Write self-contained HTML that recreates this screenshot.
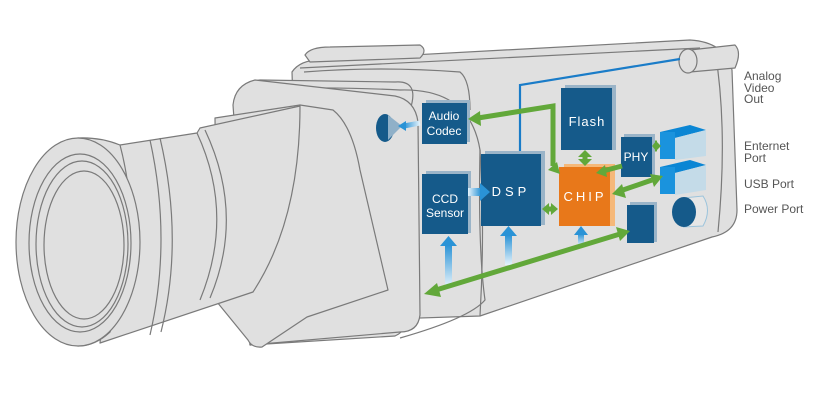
<!DOCTYPE html>
<html><head><meta charset="utf-8"><style>
html,body{margin:0;padding:0;background:#fff;}
svg{display:block}
text{font-family:"Liberation Sans",sans-serif;}
</style></head><body>
<svg width="836" height="400" viewBox="0 0 836 400" xmlns="http://www.w3.org/2000/svg">
<defs>
<linearGradient id="lb" x1="0" y1="1" x2="0" y2="0"><stop offset="0" stop-color="#e6f3fb"/><stop offset="1" stop-color="#2a93d6"/></linearGradient>
<linearGradient id="lbh" x1="0" y1="0" x2="1" y2="0"><stop offset="0" stop-color="#e6f3fb"/><stop offset="1" stop-color="#2a93d6"/></linearGradient>
<linearGradient id="lbl" x1="1" y1="0" x2="0" y2="0"><stop offset="0" stop-color="#e6f3fb"/><stop offset="1" stop-color="#2a93d6"/></linearGradient>
</defs>
<g fill="#e0e0e0" stroke="#7a7a7a" stroke-width="1.2" stroke-linejoin="round">
<!-- main body -->
<path d="M292,72 Q300,60 320,60 L690,40 Q725,42 732,70 L737,210 Q737,232 712,237 L480,316 L300,322 Z"/>
<path d="M300,68 Q420,62 700,48" fill="none"/>
<path d="M715,50 Q728,130 718,232" fill="none"/>
<path d="M480,150 Q485,230 480,316" fill="none"/>
<path d="M305,55 Q310,47 330,47 L420,45 Q428,50 420,58 L310,62 Z"/>
<!-- housing block -->
<path d="M395,82 Q420,80 410,110 L412,300 Q410,330 395,336 L250,345 L240,92 Q245,82 260,80 Z"/>
<path d="M240,92 Q300,85 400,90 Q470,88 480,150 Q478,250 485,300 Q470,318 400,338" fill="none"/>
<path d="M304,72 Q380,66 460,72 Q470,80 470,110" fill="none"/>
<path d="M233,105 Q235,85 255,80 L395,96 Q415,100 418,122 L420,315 Q418,332 400,332 L250,345 Z"/>
<!-- hood block -->
<path d="M215,118 L300,105 L333,110 Q352,125 360,170 L388,290 L307,317 L262,347 Q252,348 248,340 L217,302 Z"/>
<!-- barrel -->
<path d="M120,145 L197,133 L200,128 L300,106 Q300,220 253,292 L100,343 Z"/>
<path d="M197,133 Q235,215 200,300" fill="none"/>
<path d="M205,130 Q245,215 210,298" fill="none"/>
<path d="M150,140 Q172,240 150,335" fill="none"/>
<path d="M160,138 Q184,240 161,332" fill="none"/>
<!-- front ring -->
<path d="M78,138 Q100,137 120,145 Q145,240 110,332 Q95,346 78,346 Z"/>
<ellipse cx="78" cy="242" rx="62" ry="104"/>
<ellipse cx="80" cy="243" rx="51" ry="89" fill="none"/>
<ellipse cx="82" cy="244" rx="46" ry="83" fill="none"/>
<ellipse cx="84" cy="245" rx="40" ry="74" fill="none"/>
<!-- analog connector -->
<path d="M690,50 L735,45 Q742,52 735,68 L690,72"/>
<ellipse cx="688" cy="61" rx="9" ry="12"/>
</g>
<!-- analog line -->
<path d="M520,152 L520,85 L680,59" fill="none" stroke="#1a7cc8" stroke-width="2.2"/>
<!-- speaker -->
<ellipse cx="385" cy="128" rx="9" ry="14" fill="#155a8a"/>
<path d="M388,115 L402,126 L388,140 Z" fill="#8fb0c8"/>
<path d="M420,123 L404,126" stroke="url(#lbl)" stroke-width="5"/>
<path d="M398,126 L406,121 L406,131 Z" fill="#2a93d6"/>
<!-- boxes -->
<g>
<rect x="426" y="100" width="44" height="42" fill="#9ab4c8"/>
<rect x="422" y="103" width="45" height="41" fill="#155a8a"/>
<text x="444" y="120" fill="#fff" font-size="12" text-anchor="middle">Audio</text>
<text x="444" y="135" fill="#fff" font-size="12" text-anchor="middle">Codec</text>
<rect x="426" y="171" width="45" height="62" fill="#9ab4c8"/>
<rect x="422" y="174" width="46" height="60" fill="#155a8a"/>
<text x="445" y="203" fill="#fff" font-size="12" text-anchor="middle">CCD</text>
<text x="445" y="217" fill="#fff" font-size="12" text-anchor="middle">Sensor</text>
<rect x="485" y="151" width="60" height="74" fill="#9ab4c8"/>
<rect x="481" y="154" width="60" height="72" fill="#155a8a"/>
<text x="511" y="196" fill="#fff" font-size="13" text-anchor="middle" letter-spacing="4">DSP</text>
<rect x="565" y="85" width="51" height="65" fill="#9ab4c8"/>
<rect x="561" y="88" width="51" height="62" fill="#155a8a"/>
<text x="587" y="126" fill="#fff" font-size="13" text-anchor="middle" letter-spacing="1">Flash</text>
<rect x="564" y="164" width="51" height="62" fill="#f5b879"/>
<rect x="559" y="167" width="51" height="59" fill="#e8781a"/>
<text x="585" y="201" fill="#fff" font-size="13" text-anchor="middle" letter-spacing="3">CHIP</text>
<rect x="624" y="134" width="31" height="42" fill="#9ab4c8"/>
<rect x="621" y="137" width="31" height="40" fill="#155a8a"/>
<text x="636" y="161" fill="#fff" font-size="12" text-anchor="middle">PHY</text>
<rect x="630" y="202" width="27" height="40" fill="#9ab4c8"/>
<rect x="627" y="205" width="27" height="38" fill="#155a8a"/>
<!-- ports -->
<path d="M660,132 L690,125 L706,130 L675,138 Z" fill="#0b86d4"/>
<rect x="660" y="132" width="15" height="27" fill="#1a93dd"/>
<path d="M675,138 L706,130 L706,156 L675,160 Z" fill="#c4dbe8"/>
<path d="M660,167 L690,160 L706,165 L675,173 Z" fill="#0b86d4"/>
<rect x="660" y="167" width="15" height="27" fill="#1a93dd"/>
<path d="M675,173 L706,165 L706,190 L675,195 Z" fill="#c4dbe8"/>
<path d="M683,198 L703,196 Q712,210 703,226 L683,227" fill="#e6e6e6" stroke="#9cc4dc" stroke-width="1"/>
<ellipse cx="684" cy="212" rx="12" ry="15" fill="#155a8a"/>
</g>
<!-- light blue arrows -->
<g>
<rect x="445" y="245" width="7" height="42" fill="url(#lb)"/><path d="M440,246 L448.5,236 L457,246 Z" fill="#2a93d6"/>
<rect x="505" y="235" width="7" height="30" fill="url(#lb)"/><path d="M500,236 L508.5,226 L517,236 Z" fill="#2a93d6"/>
<rect x="578" y="234" width="6" height="12" fill="url(#lb)"/><path d="M574,235 L581,226 L588,235 Z" fill="#2a93d6"/>
<rect x="468" y="188" width="13" height="8" fill="url(#lbh)"/><path d="M480,183 L490,192 L480,201 Z" fill="#2a93d6"/>
</g>
<!-- green arrows -->
<g stroke="#62a83a" stroke-width="5" fill="none">
<path d="M553,166 L553,106 L478,118"/>
<path d="M585,156 L585,160"/>
<path d="M622,166 L603,171"/>
<path d="M654,146 L657,146"/>
<path d="M620,191 L652,180"/>
<path d="M546,209 L553,209"/>
<path d="M436,290 L620,234"/>
</g>
<g fill="#62a83a">
<path d="M468,119 L480,111 L481,126 Z"/>
<path d="M560,174 L548,170 L557,162 Z"/>
<path d="M585,150 L592,157 L578,157 Z"/>
<path d="M585,166 L592,159 L578,159 Z"/>
<path d="M596,173 L605,165 L607,177 Z"/>
<path d="M652,146 L657,140 L657,152 Z"/>
<path d="M661,146 L655,140 L655,152 Z"/>
<path d="M612,194 L622,184 L626,198 Z"/>
<path d="M663,176 L650,174 L654,187 Z"/>
<path d="M542,209 L549,203 L549,215 Z"/>
<path d="M558,209 L551,203 L551,215 Z"/>
<path d="M424,294 L437,283 L441,297 Z"/>
<path d="M630,231 L616,227 L620,241 Z"/>
</g>
<!-- labels -->
<g fill="#555" font-size="12">
<text x="744" y="80">Analog</text>
<text x="744" y="92">Video</text>
<text x="744" y="103">Out</text>
<text x="744" y="150">Enternet</text>
<text x="744" y="162">Port</text>
<text x="744" y="188">USB Port</text>
<text x="744" y="213">Power Port</text>
</g>
</svg>
</body></html>
